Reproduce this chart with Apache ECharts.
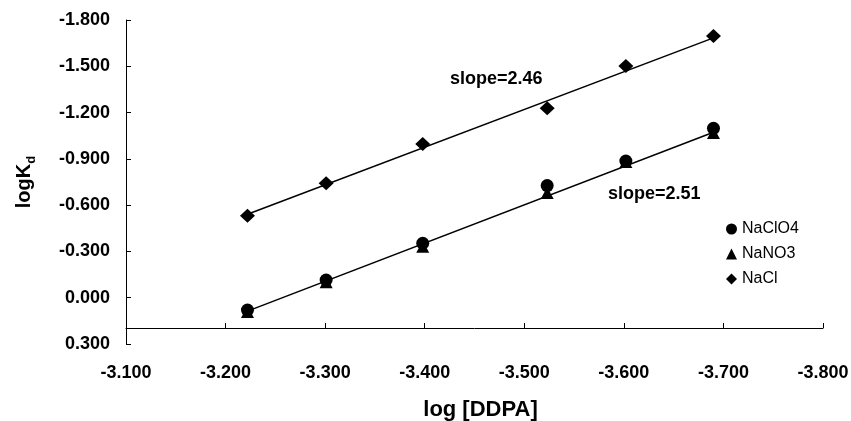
<!DOCTYPE html>
<html>
<head>
<meta charset="utf-8">
<script src="https://cdn.jsdelivr.net/npm/echarts@6/dist/echarts.min.js"></script>
<style>html,body{margin:0;padding:0;background:#fff}#c{width:851px;height:421px}</style>
</head>
<body>
<div id="c"></div>
<script>
const xValues = [-3.222, -3.301, -3.398, -3.523, -3.602, -3.690];
const naclo4 = [0.080, -0.115, -0.353, -0.727, -0.886, -1.098];
const nano3 = [0.093, -0.100, -0.330, -0.679, -0.880, -1.068];
const nacl = [-0.532, -0.742, -0.996, -1.228, -1.502, -1.696];
const trendX = [-3.222, -3.690];
const trendNaCl = [-0.541, -1.684];
const trendLower = [0.087, -1.072];
const seriesNames = ['NaClO4', 'NaNO3', 'NaCl'];
const slopeLabels = ['slope=2.46', 'slope=2.51'];

const pair = (xs, ys) => xs.map((x, i) => [x, ys[i]]);
const FONT = '"Liberation Sans", Arial, sans-serif';

const chart = echarts.init(document.getElementById('c'), null, {renderer: 'canvas'});
chart.setOption({
  backgroundColor: '#ffffff',
  animation: false,
  grid: [
    {left: 126, right: 28, top: 20, bottom: 77, containLabel: false, outerBoundsMode: 'none'},
    {left: 126, right: 28, top: 20, bottom: 93, containLabel: false, outerBoundsMode: 'none'}
  ],
  xAxis: [
    {
      gridIndex: 0, type: 'value', min: -3.8, max: -3.1, interval: 0.1, inverse: true,
      axisLine: {show: false}, axisTick: {show: false}, splitLine: {show: false},
      axisLabel: {margin: 20, fontSize: 18, fontWeight: 'bold', color: '#000', fontFamily: FONT,
        formatter: v => v.toFixed(3)},
      name: 'log [DDPA]', nameLocation: 'middle', nameGap: 55,
      nameTextStyle: {fontSize: 22, fontWeight: 'bold', color: '#000', fontFamily: FONT, padding: [0, 0, 0, 12]}
    },
    {
      gridIndex: 1, type: 'value', min: -3.8, max: -3.1, interval: 0.1, inverse: true,
      axisLine: {show: true, onZero: false, lineStyle: {color: '#000', width: 1}},
      axisTick: {show: true, inside: true, length: 5, lineStyle: {color: '#000'}},
      axisLabel: {show: false}, splitLine: {show: false}
    }
  ],
  yAxis: [
    {
      gridIndex: 0, type: 'value', min: -1.8, max: 0.3, interval: 0.3, inverse: true,
      axisLine: {show: true, lineStyle: {color: '#000', width: 1}},
      axisTick: {show: true, inside: true, length: 5, lineStyle: {color: '#000'}},
      splitLine: {show: false},
      axisLabel: {margin: 16, fontSize: 18, fontWeight: 'bold', color: '#000', fontFamily: FONT,
        formatter: v => v.toFixed(3)},
      name: '{a|logK}{b|d}', nameLocation: 'middle', nameGap: 92, nameRotate: 90,
      nameTextStyle: {
        color: '#000', fontFamily: FONT,
        rich: {
          a: {fontSize: 20, fontWeight: 'bold', color: '#000', fontFamily: FONT, lineHeight: 22, verticalAlign: 'bottom'},
          b: {fontSize: 13, fontWeight: 'bold', color: '#000', fontFamily: FONT, lineHeight: 22, verticalAlign: 'bottom', padding: [0, 0, -4, 0]}
        }
      }
    },
    {
      gridIndex: 1, type: 'value', min: -1.8, max: 0.3, inverse: true, show: false
    }
  ],
  legend: {
    data: [
      {name: seriesNames[0], icon: 'circle'},
      {name: seriesNames[1], icon: 'triangle'},
      {name: seriesNames[2], icon: 'diamond'}
    ],
    orient: 'vertical', left: 721, top: 216, itemWidth: 11, itemHeight: 11, itemGap: 9,
    itemStyle: {opacity: 1},
    textStyle: {fontSize: 16, color: '#000', fontFamily: FONT}
  },
  graphic: [
    {type: 'text', left: 450, top: 70, style: {text: slopeLabels[0], fontSize: 18, fontWeight: 'bold', fill: '#000', fontFamily: FONT}},
    {type: 'text', left: 608, top: 185, style: {text: slopeLabels[1], fontSize: 18, fontWeight: 'bold', fill: '#000', fontFamily: FONT}}
  ],
  series: [
    {type: 'line', data: pair(trendX, trendNaCl), showSymbol: false, symbol: 'none',
      lineStyle: {color: '#000', width: 1.5}, silent: true, z: 1},
    {type: 'line', data: pair(trendX, trendLower), showSymbol: false, symbol: 'none',
      lineStyle: {color: '#000', width: 1.5}, silent: true, z: 1},
    {name: seriesNames[1], type: 'scatter', data: pair(xValues, nano3), symbol: 'triangle', symbolSize: [13, 12],
      itemStyle: {color: '#000', opacity: 1}, z: 2},
    {name: seriesNames[0], type: 'scatter', data: pair(xValues, naclo4), symbol: 'circle', symbolSize: 13,
      itemStyle: {color: '#000', opacity: 1}, z: 3},
    {name: seriesNames[2], type: 'scatter', data: pair(xValues, nacl), symbol: 'diamond', symbolSize: [15, 14],
      itemStyle: {color: '#000', opacity: 1}, z: 3}
  ]
});
</script>
</body>
</html>
